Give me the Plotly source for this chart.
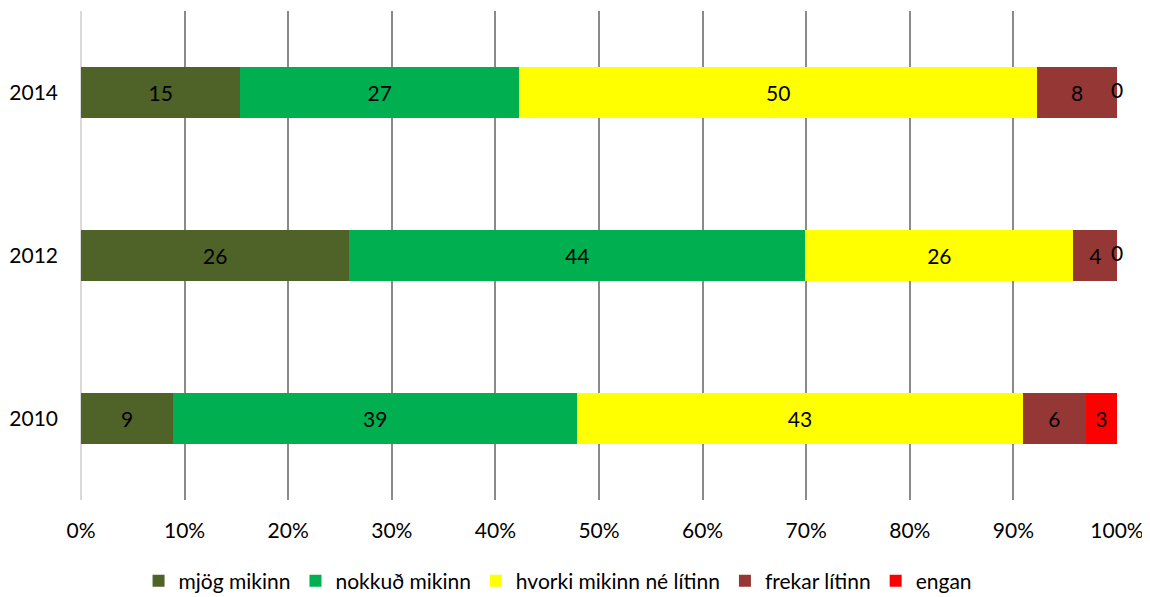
import plotly.graph_objects as go

years = ["2010", "2012", "2014"]
series_names = ["mjög mikinn", "nokkuð mikinn", "hvorki mikinn né lítinn", "frekar lítinn", "engan"]
mjog = [8.9, 25.9, 15.38]
nokkud = [39.0, 44.0, 26.92]
hvorki = [43.0, 25.9, 50.0]
frekar = [6.1, 4.2, 7.7]
engan = [3.0, 0.0, 0.0]
values = [mjog, nokkud, hvorki, frekar, engan]
colors = ["#4F6228", "#00B050", "#FFFF00", "#953735", "#FF0000"]
tick_vals = [0, 10, 20, 30, 40, 50, 60, 70, 80, 90, 100]
tick_text = ["0%", "10%", "20%", "30%", "40%", "50%", "60%", "70%", "80%", "90%", "100%"]

FONT = "Lato, Calibri, Carlito, sans-serif"
FS = 21

fig = go.Figure()
for name, vals, col in zip(series_names, values, colors):
    fig.add_trace(go.Bar(
        y=years, x=vals, name=name, orientation="h",
        marker=dict(color=col, line=dict(width=0)),
        text=[f"{v:.0f}" if v > 0 else "" for v in vals],
        textposition="inside", insidetextanchor="middle",
        constraintext="none", textangle=0,
        textfont=dict(color="black", size=FS, family=FONT),
        width=0.31,
    ))

# labels for zero-width segments, placed at the end of their stack
zx, zy, zt = [], [], []
for i, y in enumerate(years):
    cum = 0
    for vals in values:
        if vals[i] == 0:
            zx.append(round(cum, 6)); zy.append(y); zt.append(f"{vals[i]:.0f}")
        cum += vals[i]
fig.add_trace(go.Scatter(x=zx, y=zy, text=zt, mode="text", showlegend=False,
                         textposition="middle center", cliponaxis=False,
                         textfont=dict(color="black", size=FS, family=FONT),
                         hoverinfo="skip"))

fig.update_layout(
    barmode="stack",
    width=1142, height=589,
    margin=dict(l=73, r=33, t=3, b=97, autoexpand=False),
    plot_bgcolor="white", paper_bgcolor="white",
    font=dict(family=FONT, size=FS, color="black"),
    legend=dict(orientation="h", x=0.46, xanchor="center",
                yref="container", y=0.027, yanchor="middle",
                font=dict(size=FS, family=FONT), traceorder="normal"),
    xaxis=dict(range=[0, 100.001], tickvals=tick_vals, ticktext=tick_text,
               showgrid=True, gridcolor="#8A8A8A", gridwidth=1.5,
               zeroline=True, zerolinecolor="#D9D9D9", zerolinewidth=1.5,
               showline=False, ticks="", ticklabelstandoff=16, automargin=False),
    yaxis=dict(type="category", showgrid=False, zeroline=False, showline=False, ticks="",
               ticklabelstandoff=22, categoryorder="array", categoryarray=years,
               range=[-0.5, 2.5], automargin=False),
)

fig.write_html("out.html")
